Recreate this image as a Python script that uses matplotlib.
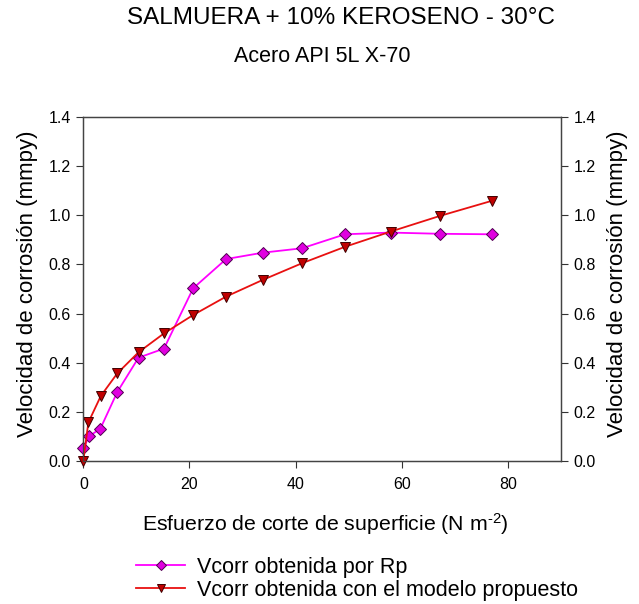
import numpy as np
import matplotlib
matplotlib.use("Agg")
import matplotlib.pyplot as plt
from matplotlib.lines import Line2D

plt.rcParams['font.family'] = ['Liberation Sans', 'DejaVu Sans']
plt.rcParams['mathtext.fontset'] = 'custom'
plt.rcParams['mathtext.rm'] = 'Liberation Sans'
plt.rcParams['mathtext.default'] = 'rm'

# Vcorr obtenida por Rp
x_rp = [0.0, 1.1, 3.2, 6.4, 10.4, 15.2, 20.7, 26.9, 33.8, 41.2, 49.3, 57.9, 67.2, 76.9]
y_rp = [0.05, 0.10, 0.13, 0.28, 0.42, 0.457, 0.703, 0.822, 0.848, 0.866, 0.923, 0.93, 0.925, 0.923]

# Vcorr obtenida con el modelo propuesto
x_mod = [0.0, 0.95, 3.3, 6.4, 10.4, 15.2, 20.7, 26.9, 33.8, 41.2, 49.3, 57.9, 67.2, 76.9]
y_mod = [0.0, 0.156, 0.264, 0.356, 0.442, 0.519, 0.594, 0.669, 0.737, 0.805, 0.872, 0.934, 0.998, 1.059]

x_ticks = [0, 20, 40, 60, 80]
y_ticks = [0.0, 0.2, 0.4, 0.6, 0.8, 1.0, 1.2, 1.4]
y_labels = ['%.1f' % v for v in y_ticks]

fig = plt.figure(figsize=(6.39, 6.04), dpi=100)
ax = fig.add_axes([0.1304, 0.2373, 0.7476, 0.5685])

ax.plot(x_rp, y_rp, color='#ff00ff', lw=1.3, marker='D', ms=6,
        mfc='#e000e0', mec='#500050', mew=0.7, zorder=3, clip_on=False)
ax.plot(x_mod, y_mod, color='#e81010', lw=1.3, marker='v', ms=7,
        mfc='#c00000', mec='#400000', mew=0.7, zorder=4, clip_on=False)

ax.set_xlim(0, 90)
ax.set_ylim(0, 1.4)
ax.set_xticks(x_ticks)
ax.set_yticks(y_ticks)
ax.set_yticklabels(y_labels)
ax.tick_params(direction='out', length=5, labelsize=11.5, color='#333333', pad=4)
ax.tick_params(axis='x', pad=7)

ax2 = ax.twinx()
ax2.set_ylim(0, 1.4)
ax2.set_yticks(y_ticks)
ax2.set_yticklabels(y_labels)
ax2.tick_params(direction='out', length=5, labelsize=11.5, color='#333333', pad=4)

for a in (ax, ax2):
    for s in a.spines.values():
        s.set_color('#444444')
        s.set_linewidth(0.9)

ylab = 'Velocidad de corrosión (mmpy)'
fig.text(0.0438, 0.53, ylab, rotation=90, ha='center', va='center', fontsize=16)
fig.text(0.967, 0.53, ylab, rotation=90, ha='center', va='center', fontsize=16)

fig.text(0.534, 0.970, 'SALMUERA + 10% KEROSENO - 30°C', ha='center', va='center', fontsize=17.5)
fig.text(0.504, 0.906, 'Acero API 5L X-70', ha='center', va='center', fontsize=15.5)
fig.text(0.509, 0.132, 'Esfuerzo de corte de superficie (N m$^{\\text{-}2}$)',
         ha='center', va='center', fontsize=15.3)

handles = [
    Line2D([], [], color='#ff00ff', lw=1.3, marker='D', ms=5, mfc='#e000e0', mec='#500050', mew=0.7),
    Line2D([], [], color='#e81010', lw=1.3, marker='v', ms=6, mfc='#c00000', mec='#400000', mew=0.7),
]
fig.legend(handles, ['Vcorr obtenida por Rp', 'Vcorr obtenida con el modelo propuesto'],
           loc='center left', bbox_to_anchor=(0.213, 0.042), frameon=False, fontsize=15.5,
           handlelength=2.28, labelspacing=0.1, borderaxespad=0, borderpad=0, handletextpad=0.56)

fig.savefig('out.png', dpi=100)
